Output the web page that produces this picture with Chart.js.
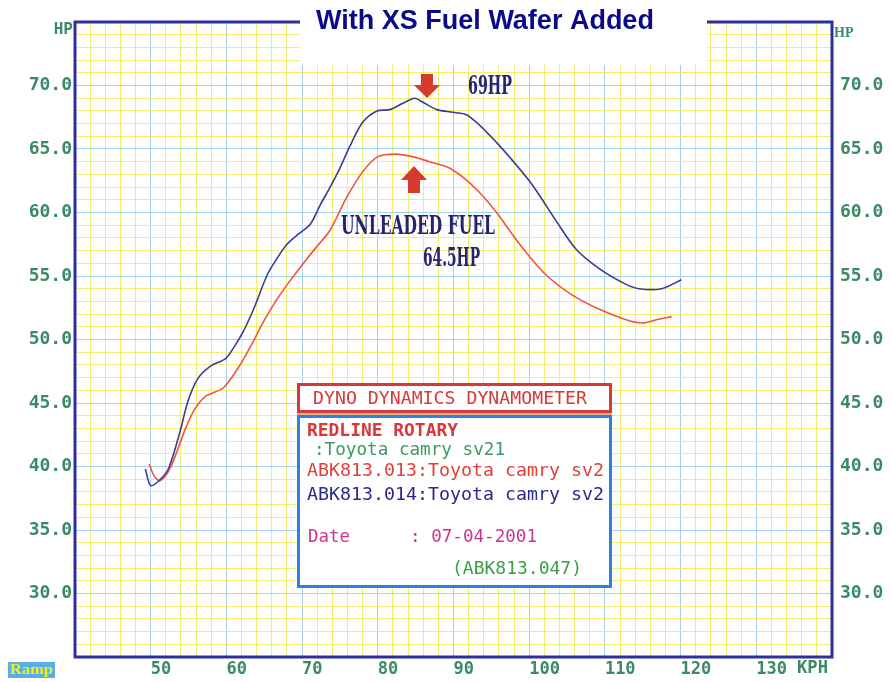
<!DOCTYPE html>
<html>
<head>
<meta charset="utf-8">
<script src="https://cdn.jsdelivr.net/npm/chart.js@4.4.1/dist/chart.umd.min.js"></script>
<style>
  html, body { margin: 0; padding: 0; background: #fff; }
  #wrap { width: 892px; height: 682px; }
</style>
</head>
<body>
<div id="wrap"><canvas id="dyno" width="892" height="682"></canvas></div>
<script>
// speed (kph) and power (HP)
const kphWafer = [49.3, 50.0, 51.3, 52.4, 53.9, 54.9, 56.2, 57.9, 59.9, 60.9, 62.2, 63.6, 65.4, 66.7, 68.0, 69.5, 71.1, 72.4, 73.7, 75.0, 76.3, 78.0, 79.9, 81.6, 83.3, 84.9, 85.9, 87.8, 89.9, 91.7, 93.4, 95.7, 97.5, 100.0, 101.3, 103.6, 106.2, 109.2, 112.6, 114.5, 117.5, 120.1];
const hpWafer = [39.8, 38.5, 39.0, 39.9, 42.8, 45.1, 46.9, 47.9, 48.5, 49.3, 50.6, 52.4, 55.1, 56.4, 57.5, 58.3, 59.1, 60.6, 62.0, 63.5, 65.2, 67.1, 68.0, 68.1, 68.6, 69.0, 68.7, 68.1, 67.9, 67.7, 66.9, 65.5, 64.3, 62.5, 61.4, 59.3, 57.1, 55.6, 54.4, 54.0, 54.0, 54.7];

const kphUnleaded = [49.8, 50.5, 51.3, 52.6, 54.6, 55.7, 57.2, 59.6, 61.8, 63.5, 64.9, 66.5, 68.0, 70.7, 72.2, 73.7, 75.8, 78.0, 80.0, 82.4, 84.6, 86.8, 89.1, 91.2, 93.4, 95.7, 97.5, 99.4, 102.2, 105.7, 109.2, 112.6, 114.9, 117.1, 118.8];
const hpUnleaded = [40.2, 39.2, 38.9, 39.9, 43.0, 44.4, 45.5, 46.2, 48.0, 49.8, 51.4, 53.0, 54.3, 56.4, 57.5, 58.6, 61.1, 63.2, 64.4, 64.6, 64.4, 64.0, 63.6, 62.8, 61.6, 60.0, 58.5, 57.0, 55.1, 53.5, 52.4, 51.6, 51.3, 51.6, 51.8];

const xTickLabels = [50, 60, 70, 80, 90, 100, 110, 120, 130];
const yTickLabels = [30, 35, 40, 45, 50, 55, 60, 65, 70];

const BLUE_GRID = "#a6d0f0";
const YELLOW_GRID = "#f2ee72";
const NAVY = "#2c2f9c";
const TICK_GREEN = "#3a8a66";

function toPoints(xs, ys) {
  return xs.map((x, i) => ({ x, y: ys[i] }));
}

function stepTicks(min, max, step) {
  const t = [];
  for (let v = min; v <= max + 1e-9; v += step) t.push({ value: v });
  return t;
}

// draws text squeezed or stretched to a given width
function fitText(ctx, text, x, y, w, font, color) {
  ctx.save();
  ctx.font = font;
  const m = ctx.measureText(text).width;
  ctx.translate(x, y);
  ctx.scale(w / m, 1);
  ctx.fillStyle = color;
  ctx.textAlign = "left";
  ctx.textBaseline = "middle";
  ctx.fillText(text, 0, 0);
  ctx.restore();
}

function arrow(ctx, cx, top, bottom, up) {
  ctx.save();
  ctx.fillStyle = "#d83a2c";
  ctx.beginPath();
  if (!up) {
    ctx.moveTo(cx - 6, top); ctx.lineTo(cx + 6, top); ctx.lineTo(cx + 6, top + 11);
    ctx.lineTo(cx + 13, top + 11); ctx.lineTo(cx, bottom); ctx.lineTo(cx - 13, top + 11);
    ctx.lineTo(cx - 6, top + 11);
  } else {
    ctx.moveTo(cx - 6, bottom); ctx.lineTo(cx + 6, bottom); ctx.lineTo(cx + 6, bottom - 13);
    ctx.lineTo(cx + 13, bottom - 13); ctx.lineTo(cx, top); ctx.lineTo(cx - 13, bottom - 13);
    ctx.lineTo(cx - 6, bottom - 13);
  }
  ctx.closePath();
  ctx.fill();
  ctx.restore();
}

const decor = {
  id: "decor",
  beforeDatasetsDraw(chart) {
    const { ctx, chartArea: a } = chart;
    ctx.save();
    ctx.strokeStyle = NAVY;
    ctx.lineWidth = 3;
    ctx.strokeRect(a.left, a.top, a.right - a.left, a.bottom - a.top);
    ctx.restore();
  },
  afterDraw(chart) {
    const { ctx } = chart;
    const mono = "'DejaVu Sans Mono', 'Liberation Mono', monospace";

    // white title panel over the top of the grid
    ctx.save();
    ctx.fillStyle = "#ffffff";
    ctx.fillRect(300, 0, 407, 65);
    ctx.fillStyle = "#0b0b8a";
    ctx.font = "bold 27px 'Liberation Sans', Arial, sans-serif";
    ctx.textAlign = "center";
    ctx.textBaseline = "middle";
    ctx.fillText("With XS Fuel Wafer Added", 485, 22);

    // axis unit labels
    ctx.fillStyle = TICK_GREEN;
    ctx.font = "bold 16px " + mono;
    ctx.textAlign = "right";
    ctx.fillText("HP", 73, 30);
    ctx.textAlign = "left";
    ctx.font = "bold 14px 'Liberation Serif', serif";
    ctx.fillText("HP", 834, 33);
    ctx.restore();
    fitText(ctx, "KPH", 797, 669, 31, "bold 17px " + mono, TICK_GREEN);

    // Ramp tag
    ctx.save();
    ctx.fillStyle = "#5aaee6";
    ctx.fillRect(8, 662, 47, 16);
    ctx.restore();
    fitText(ctx, "Ramp", 10, 670, 43, "bold 15px 'Liberation Serif', serif", "#eef21a");

    // peak annotations
    const western = "bold 26px 'DejaVu Serif', 'Liberation Serif', serif";
    arrow(ctx, 427, 74, 98, false);
    arrow(ctx, 414, 166, 193, true);
    fitText(ctx, "69HP", 468, 87, 44, western, "#23236e");
    fitText(ctx, "UNLEADED FUEL", 341, 227, 154, western, "#23236e");
    fitText(ctx, "64.5HP", 423, 259, 57, western, "#23236e");

    // dynamometer info box
    ctx.save();
    ctx.fillStyle = "#ffffff";
    ctx.fillRect(297, 383, 314, 205);
    ctx.lineWidth = 3;
    ctx.strokeStyle = "#d8383a";
    ctx.strokeRect(298.5, 384.5, 312, 27);
    ctx.strokeStyle = "#c89a5a";
    ctx.lineWidth = 1.5;
    ctx.beginPath(); ctx.moveTo(297, 414); ctx.lineTo(611, 414); ctx.stroke();
    ctx.strokeStyle = "#2a82e2";
    ctx.lineWidth = 3;
    ctx.strokeRect(298.5, 416.5, 312, 170);
    ctx.restore();

    const boxBold = "bold 18px " + mono;
    const boxReg = "18px " + mono;
    fitText(ctx, "DYNO DYNAMICS DYNAMOMETER", 313, 399, 274, boxReg, "#d8383a");
    fitText(ctx, "REDLINE ROTARY", 307, 431, 151, boxBold, "#d8383a");
    fitText(ctx, ":Toyota camry sv21", 314, 450, 191, boxReg, "#3a9a62");
    fitText(ctx, "ABK813.013:Toyota camry sv2", 307, 471, 297, boxReg, "#e0403a");
    fitText(ctx, "ABK813.014:Toyota camry sv2", 307, 495, 297, boxReg, "#2a2a8c");
    fitText(ctx, "Date", 308, 537, 42, boxReg, "#c8368e");
    fitText(ctx, ": 07-04-2001", 410, 537, 127, boxReg, "#c8368e");
    fitText(ctx, "(ABK813.047)", 452, 569, 130, boxReg, "#3aa044");
  }
};

const tickFont = { family: "'DejaVu Sans Mono', 'Liberation Mono', monospace", size: 18, weight: "bold" };

new Chart(document.getElementById("dyno"), {
  type: "line",
  data: {
    datasets: [
      {
        label: "XS Fuel Wafer",
        data: toPoints(kphWafer, hpWafer),
        borderColor: "#3b3b9e",
        borderWidth: 1.6,
        pointRadius: 0,
        tension: 0.3,
        fill: false
      },
      {
        label: "Unleaded Fuel",
        data: toPoints(kphUnleaded, hpUnleaded),
        borderColor: "#f0553c",
        borderWidth: 1.6,
        pointRadius: 0,
        tension: 0.3,
        fill: false
      }
    ]
  },
  options: {
    responsive: false,
    animation: false,
    devicePixelRatio: 1,
    layout: { padding: { top: 22, left: 0, right: 0, bottom: 0 } },
    plugins: {
      legend: { display: false },
      tooltip: { enabled: false },
      title: { display: false }
    },
    scales: {
      x: {
        type: "linear",
        min: 40,
        max: 140,
        afterBuildTicks: s => { s.ticks = stepTicks(40, 140, 2); },
        afterFit: s => { s.height = 25; },
        border: { display: false },
        grid: {
          drawTicks: false,
          color: c => (c.tick && c.tick.value % 10 === 0 ? BLUE_GRID : YELLOW_GRID),
          lineWidth: 1
        },
        ticks: {
          autoSkip: false,
          maxRotation: 0,
          align: "start",
          padding: 2,
          color: TICK_GREEN,
          font: { ...tickFont, size: 17 },
          callback: v => (xTickLabels.includes(v) ? String(v) : "")
        }
      },
      y: {
        position: "left",
        min: 25,
        max: 75,
        afterBuildTicks: s => { s.ticks = stepTicks(25, 75, 1); },
        afterFit: s => { s.width = 75; },
        border: { display: false },
        grid: {
          drawTicks: false,
          color: c => (c.tick && c.tick.value % 5 === 0 ? BLUE_GRID : YELLOW_GRID),
          lineWidth: 1
        },
        ticks: {
          autoSkip: false,
          padding: 3,
          color: TICK_GREEN,
          font: tickFont,
          callback: v => (yTickLabels.includes(v) ? v.toFixed(1) : "")
        }
      },
      y2: {
        position: "right",
        min: 25,
        max: 75,
        afterBuildTicks: s => { s.ticks = stepTicks(25, 75, 1); },
        afterFit: s => { s.width = 60; },
        border: { display: false },
        grid: { display: false, drawTicks: false },
        ticks: {
          autoSkip: false,
          padding: 8,
          color: TICK_GREEN,
          font: tickFont,
          callback: v => (yTickLabels.includes(v) ? v.toFixed(1) : "")
        }
      }
    }
  },
  plugins: [decor]
});
</script>
</body>
</html>
